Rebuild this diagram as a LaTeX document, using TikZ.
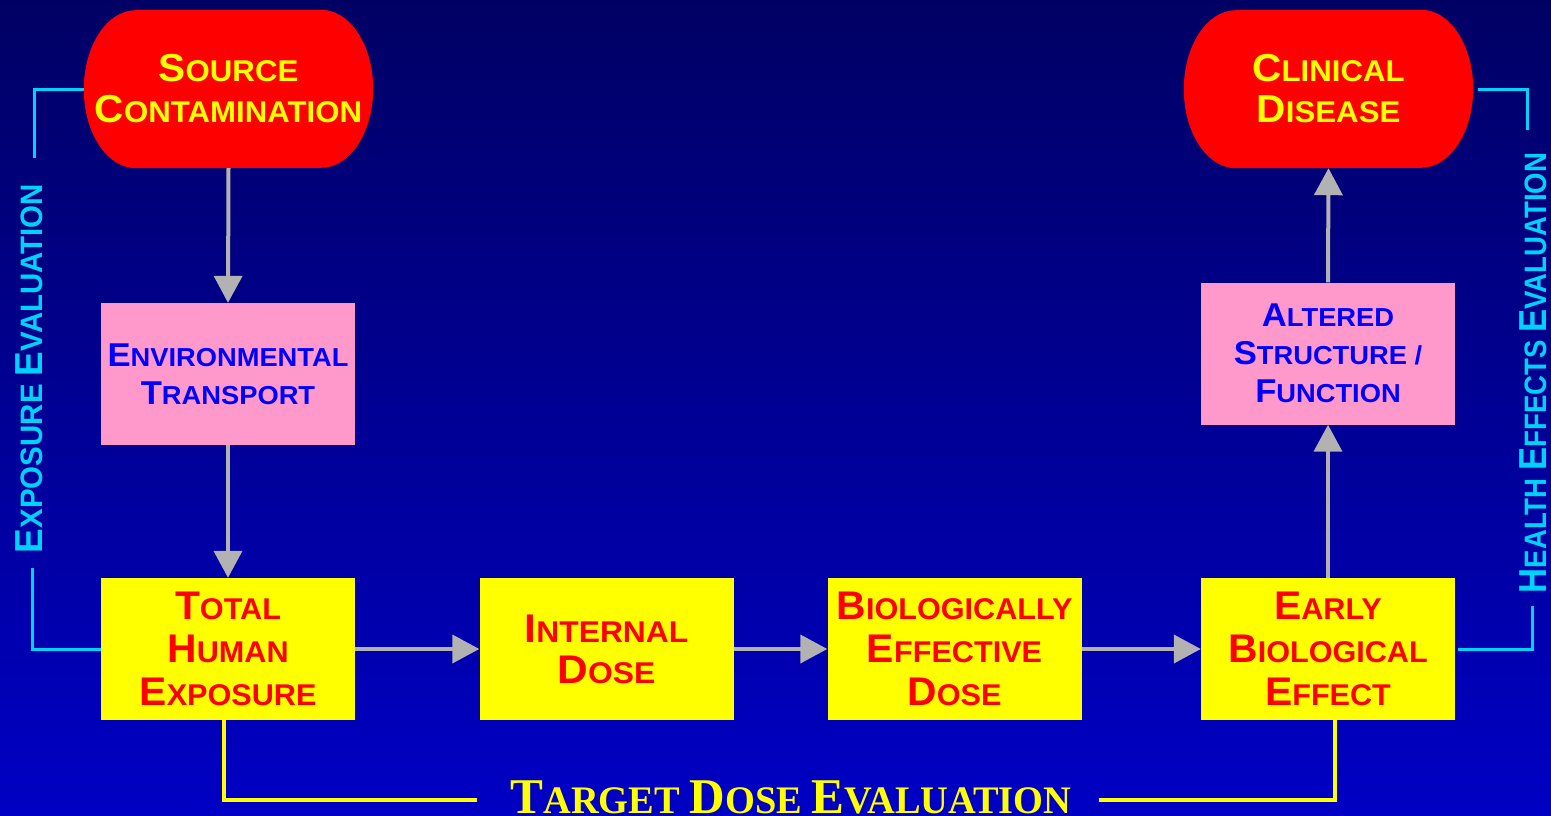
\documentclass[tikz,border=0pt]{standalone}
\usepackage{fontspec}
\usetikzlibrary{arrows.meta}
\newfontfamily\rfont[FakeStretch=1.04]{Liberation Sans Bold}
\newfontfamily\yfont[FakeStretch=1.02]{Liberation Sans Bold}
\newfontfamily\ifont[FakeStretch=1.06]{Liberation Sans Bold}
\newfontfamily\pfont[FakeStretch=1.05]{Liberation Sans Bold}
\newfontfamily\cfontA[FakeStretch=0.95]{Liberation Sans Bold}
\newfontfamily\cfontB[FakeStretch=0.89]{Liberation Sans Bold}
\newfontfamily\tfont[FakeStretch=0.985]{Liberation Serif Bold}
\newcommand\Cp[2]{{\fontsize{#1}{#1}\selectfont #2}}
\definecolor{bgtop}{RGB}{0,0,100}
\definecolor{bgbot}{RGB}{0,0,196}
\definecolor{srcred}{RGB}{255,0,0}
\definecolor{boxyel}{RGB}{255,255,0}
\definecolor{boxpink}{RGB}{255,153,204}
\definecolor{txtblue}{RGB}{0,0,255}
\definecolor{cyanc}{RGB}{0,210,255}
\definecolor{arrgray}{RGB}{178,178,178}
\newcommand\stadium[1]{\fill[srcred] ([xshift=52pt]#1.north west) -- ([xshift=-52pt]#1.north east)
  arc[start angle=90,end angle=-90,x radius=52pt,y radius=79pt] -- ([xshift=52pt]#1.south west)
  arc[start angle=270,end angle=90,x radius=52pt,y radius=79pt] -- cycle;}
\tikzset{
  redbox/.style={minimum width=289pt, minimum height=158pt, inner sep=0pt, align=center, text=boxyel,
    font=\rfont\fontsize{30}{41}\selectfont},
  ybox/.style={fill=boxyel, minimum width=254pt, minimum height=142pt, inner sep=0pt, align=center, text=srcred,
    font=\yfont\fontsize{30}{43}\selectfont},
  pbox/.style={fill=boxpink, minimum width=254pt, minimum height=142pt, inner sep=0pt, align=center, text=txtblue,
    font=\pfont\fontsize{26}{38}\selectfont},
  garrow/.style={draw=arrgray, line width=4pt, -{Triangle[length=27pt,width=28pt]}},
  cline/.style={draw=cyanc, line width=3pt},
  yline/.style={draw=boxyel, line width=4pt},
  ctext/.style={text=cyanc, inner sep=0pt, rotate=90},
  ttext/.style={text=boxyel, inner sep=0pt, font=\tfont\fontsize{39}{39}\selectfont}
}
\begin{document}
\begin{tikzpicture}[x=1pt,y=-1pt]
\shade[top color=bgtop, bottom color=bgbot] (0,0) rectangle (1551,815);
\useasboundingbox (0,0) rectangle (1551,815);

\node[redbox] (src) at (228.5,89) {};
\stadium{src}
\node[redbox] (srct) at (src.center) {\Cp{39}{S}OURCE\\\Cp{39}{C}ONTAMINATION};

\node[redbox] (cd) at (1328.5,89) {};
\stadium{cd}
\node[redbox] (cdt) at (cd.center) {\Cp{39}{C}LINICAL\\\Cp{39}{D}ISEASE};

\node[pbox] (env) at (228,374) {\Cp{33}{E}NVIRONMENTAL\\\Cp{33}{T}RANSPORT};
\node[pbox] (asf) at (1328,353.5) {\Cp{33}{A}LTERED\\\Cp{33}{S}TRUCTURE /\\\Cp{33}{F}UNCTION};

\node[ybox] (the) at (228,649) {\Cp{40}{T}OTAL\\\Cp{40}{H}UMAN\\\Cp{40}{E}XPOSURE};
\node[ybox, font=\ifont\fontsize{30}{41}\selectfont] (ind) at (606.5,649) {\Cp{40}{I}NTERNAL\\\Cp{40}{D}OSE};
\node[ybox] (bed) at (954.5,649) {\Cp{40}{B}IOLOGICALLY\\\Cp{40}{E}FFECTIVE\\\Cp{40}{D}OSE};
\node[ybox] (ebe) at (1328,649) {\Cp{40}{E}ARLY\\\Cp{40}{B}IOLOGICAL\\\Cp{40}{E}FFECT};

\draw[garrow] (src.south) -- (env.north);
\draw[garrow] (env) -- (the);
\draw[garrow] (the) -- (ind);
\draw[garrow] (ind) -- (bed);
\draw[garrow] (bed) -- (ebe);
\draw[garrow] (ebe) -- (asf);
\draw[garrow] (asf.north) -- (cd.south);

\coordinate (e1) at (34,158);
\coordinate (e2) at (32,568);
\draw[cline] (src.west) -| (e1);
\node[ctext, font=\cfontA\fontsize{31}{31}\selectfont] (expev) at (29,368.5) {\Cp{39}{E}XPOSURE \Cp{39}{E}VALUATION};
\draw[cline] (e2) |- (the.west);

\coordinate (h1) at (1527,130);
\coordinate (h2) at (1532,606);
\draw[cline] ([xshift=5pt]cd.east) -| (h1);
\node[ctext, font=\cfontB\fontsize{31}{31}\selectfont] (hev) at (1533.5,373) {\Cp{39}{H}EALTH \Cp{39}{E}FFECTS \Cp{39}{E}VALUATION};
\draw[cline] (h2) |- ([xshift=3pt]ebe.east);

\coordinate (t1) at (477,800);
\coordinate (t2) at (1099,800);
\draw[yline] ([xshift=-4pt]the.south) |- (t1);
\draw[yline] (t2) -| ([xshift=7pt]ebe.south);
\node[ttext, anchor=base] (tde) at (791,813) {\Cp{50}{T}ARGET \Cp{50}{D}OSE \Cp{50}{E}VALUATION};
\end{tikzpicture}
\end{document}
